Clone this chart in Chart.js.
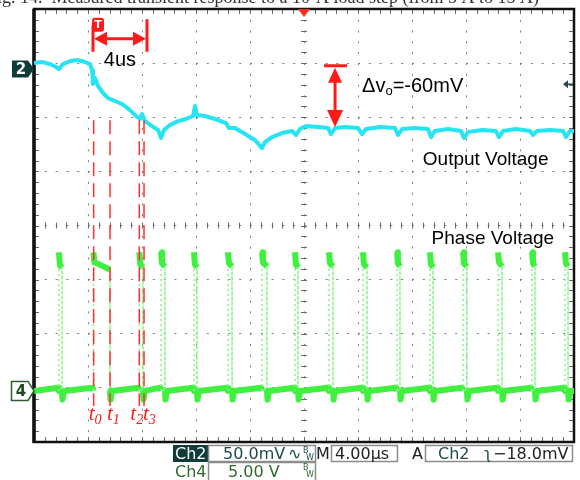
<!DOCTYPE html>
<html>
<head>
<meta charset="utf-8">
<script src="https://cdn.jsdelivr.net/npm/chart.js@4.4.1/dist/chart.umd.min.js"></script>
<style>
  html, body { margin: 0; padding: 0; background: #fff; }
  #wrap { width: 580px; height: 480px; position: relative; }
</style>
</head>
<body>
<div id="wrap"><canvas id="scope" width="580" height="480"></canvas></div>
<script>
// time in us (4 us/div), Ch2 in mV (50 mV/div), Ch4 in V (5 V/div)
const outTime = [0, 0.59, 1.19, 1.63, 1.85, 2.15, 2.67, 3.26, 3.78, 4.15, 4.30, 4.37, 4.52, 4.74, 5.11, 5.48, 6.0, 6.52, 7.11, 7.56, 7.85, 8.0, 8.22, 8.74, 9.19, 9.41, 9.63, 10.07, 10.67, 11.26, 11.78, 11.93, 12.07, 12.67, 13.41, 14.22, 14.44, 14.89, 15.63, 16.37, 16.89, 17.11, 17.63, 18.37, 19.11, 19.41, 19.70, 20.15, 21.04, 21.78, 22.0, 22.3, 23.04, 24.0, 24.3, 24.59, 25.63, 26.74, 26.96, 27.26, 28.22, 29.19, 29.41, 29.70, 30.67, 31.63, 31.85, 32.15, 33.19, 34.22, 34.44, 34.74, 35.70, 36.74, 36.96, 37.26, 38.22, 39.19, 39.41, 39.7, 40];
const outMv = [5.6, 6.5, 4.6, 1.9, 0, 4.6, 7.4, 8.3, 6.5, 4.6, -0.9, -13.9, -8.3, -15.7, -22.2, -26.9, -29.6, -32.4, -38, -43.5, -46.3, -41.7, -48.2, -52.8, -56.5, -63.9, -56.5, -51.9, -48.2, -46.3, -43.5, -34.3, -42.6, -43.5, -46.3, -50, -54.6, -54.6, -60.2, -65.7, -73.2, -67.6, -63, -59.3, -57.4, -61.1, -55.6, -52.8, -53.7, -54.6, -60.2, -54.6, -53.7, -54.6, -60.2, -55.6, -53.7, -54.6, -61.1, -55.6, -54.6, -55.6, -63, -57.4, -55.6, -57.4, -63.9, -58.3, -56.5, -57.4, -63, -57.4, -55.6, -57.4, -61.1, -57.4, -56.5, -57.4, -63, -57.4, -57.4];

const phaseRise = [1.85, 4.40, 7.80, 9.41, 11.85, 14.37, 16.89, 19.33, 21.85, 24.37, 26.89, 29.33, 31.78, 34.37, 36.89, 39.33];
const phaseFall = [2.07, 5.63, 8.07, 9.70, 12.07, 14.67, 17.26, 19.56, 22.15, 24.67, 27.11, 29.56, 32.07, 34.67, 37.11, 39.56];
const phaseHigh = [11.6, 11.9, 11.7, 11.8, 11.7, 11.8, 11.9, 11.7, 11.8, 11.7, 11.8, 11.7, 11.8, 11.9, 11.8, 11.8];
const phaseEnd = [11.4, 11.2, 11.4, 11.5, 11.4, 11.5, 11.5, 11.4, 11.5, 11.4, 11.5, 11.4, 11.5, 11.5, 11.5, 11.5];
const phasePeak = 12.8;
const phaseDip = -0.8;

const markerTimes = [4.42, 5.63, 7.80, 8.15];
const markerSubs = ['0', '1', '2', '3'];

const outPoints = outTime.map((t, i) => ({ x: t, y: outMv[i] }));

const phasePoints = [{ x: 0, y: 0 }];
phaseRise.forEach((r, i) => {
  const f = phaseFall[i];
  phasePoints.push({ x: r - 0.06, y: 0.3 }, { x: r, y: 0 }, { x: r, y: phasePeak },
    { x: r + 0.07, y: phaseHigh[i] }, { x: f, y: phaseEnd[i] }, { x: f, y: 0 },
    { x: f + 0.04, y: phaseDip }, { x: f + 0.15, y: 0 });
});
phasePoints.push({ x: 40, y: 0 });

const markerSets = markerTimes.map(t => ({
  data: [{ x: t, y: 25 }, { x: t, y: -1.4 }],
  yAxisID: 'ch4',
  borderColor: '#ff3030',
  borderWidth: 1.5,
  borderDash: [14, 7],
  pointRadius: 0
}));

const isEdge = c => c.p0.parsed.x === c.p1.parsed.x;

function arrowHead(ctx, x, y, dx, dy, len, half) {
  // tip at (x,y), pointing along (dx,dy)
  const bx = x - dx * len, by = y - dy * len;
  ctx.beginPath();
  ctx.moveTo(x, y);
  ctx.lineTo(bx - dy * half, by + dx * half);
  ctx.lineTo(bx + dy * half, by - dx * half);
  ctx.closePath();
  ctx.fill();
}

const scopeDecor = {
  id: 'scopeDecor',
  beforeDatasetsDraw(chart) {
    const { ctx, chartArea: a, scales } = chart;
    const cx = scales.x.getPixelForValue(20);
    const cy = scales.y.getPixelForValue(0);
    ctx.save();
    ctx.strokeStyle = '#6a6a6a';
    ctx.lineWidth = 1;
    ctx.beginPath();
    for (let i = 0; i <= 50; i++) {
      const px = Math.round(scales.x.getPixelForValue(i * 0.8)) + 0.5;
      ctx.moveTo(px, cy - 3); ctx.lineTo(px, cy + 3);
      ctx.moveTo(px, a.top); ctx.lineTo(px, a.top + 5);
      ctx.moveTo(px, a.bottom); ctx.lineTo(px, a.bottom - 5);
    }
    for (let i = 0; i <= 40; i++) {
      const py = Math.round(scales.y.getPixelForValue(-4 + i * 0.2)) + 0.5;
      ctx.moveTo(cx - 3, py); ctx.lineTo(cx + 3, py);
      ctx.moveTo(a.left, py); ctx.lineTo(a.left + 5, py);
      ctx.moveTo(a.right, py); ctx.lineTo(a.right - 5, py);
    }
    ctx.stroke();
    ctx.strokeStyle = '#111';
    ctx.lineWidth = 2.5;
    ctx.strokeRect(a.left, a.top, a.right - a.left, a.bottom - a.top);
    ctx.lineWidth = 3.5;
    ctx.beginPath();
    ctx.moveTo(a.left, a.top); ctx.lineTo(a.left, a.bottom + 1);
    ctx.stroke();
    ctx.restore();
  },
  afterDraw(chart) {
    const { ctx, chartArea: a, scales } = chart;
    const X = v => scales.x.getPixelForValue(v);
    const Y2 = v => scales.ch2.getPixelForValue(v);
    const Y4 = v => scales.ch4.getPixelForValue(v);
    ctx.save();

    // caption line cut by the top edge
    ctx.fillStyle = '#333';
    ctx.font = '18px "Liberation Serif"';
    ctx.textBaseline = 'alphabetic';
    ctx.fillText('Fig. 14.  Measured transient response to a 10-A load step (from 5 A to 15 A)', -13, 2.5);

    // horizontal position marker
    ctx.fillStyle = '#ff2a1a';
    ctx.beginPath();
    ctx.moveTo(X(20) - 6, a.top); ctx.lineTo(X(20) + 6, a.top); ctx.lineTo(X(20), a.top + 8);
    ctx.closePath(); ctx.fill();

    // channel markers
    const y2 = Y2(0), y4 = Y4(0);
    ctx.beginPath();
    ctx.moveTo(12, y2 - 8.5); ctx.lineTo(28, y2 - 8.5); ctx.lineTo(34, y2); ctx.lineTo(28, y2 + 8.5); ctx.lineTo(12, y2 + 8.5);
    ctx.closePath();
    ctx.fillStyle = '#0f3b3b'; ctx.fill();
    ctx.fillStyle = '#fff';
    ctx.font = 'bold 15px "DejaVu Sans"';
    ctx.textAlign = 'center'; ctx.textBaseline = 'middle';
    ctx.fillText('2', 21, y2 + 1);
    ctx.beginPath();
    ctx.moveTo(11.5, y4 - 9.5); ctx.lineTo(28, y4 - 9.5); ctx.lineTo(34, y4); ctx.lineTo(28, y4 + 9.5); ctx.lineTo(11.5, y4 + 9.5);
    ctx.closePath();
    ctx.fillStyle = '#fff'; ctx.fill();
    ctx.strokeStyle = '#2e5e2e'; ctx.lineWidth = 1.5; ctx.stroke();
    ctx.fillStyle = '#1f4a1f';
    ctx.fillText('4', 21, y4 + 1);

    // trigger level arrow on the right edge
    const yt = Y2(-14);
    ctx.strokeStyle = '#1d4b4b'; ctx.fillStyle = '#1d4b4b'; ctx.lineWidth = 1.5;
    ctx.beginPath(); ctx.moveTo(566, yt); ctx.lineTo(573, yt); ctx.stroke();
    arrowHead(ctx, 563, yt, -1, 0, 5, 4);

    // 4 us bracket with trigger "T"
    const red = '#ff1a1a';
    const xL = X(markerTimes[0] - 0.05), xR = X(markerTimes[0] + 3.95);
    ctx.strokeStyle = red; ctx.fillStyle = red; ctx.lineWidth = 3;
    ctx.beginPath();
    ctx.moveTo(xL, Y2(40)); ctx.lineTo(xL, Y2(16));
    ctx.moveTo(xR, Y2(46)); ctx.lineTo(xR, Y2(16));
    ctx.moveTo(xL + 10, Y2(28)); ctx.lineTo(xR - 10, Y2(28));
    ctx.stroke();
    arrowHead(ctx, xL + 1, Y2(28), -1, 0, 13, 7);
    arrowHead(ctx, xR - 1, Y2(28), 1, 0, 13, 7);
    ctx.beginPath();
    ctx.roundRect(xL - 1, Y2(47.5), 12, 14, 3);
    ctx.fill();
    ctx.fillStyle = '#fff';
    ctx.font = 'bold 11px "DejaVu Sans"';
    ctx.fillText('T', xL + 5, Y2(40.5));
    ctx.fillStyle = '#000';
    ctx.font = '20px "Liberation Sans"';
    ctx.textBaseline = 'alphabetic';
    ctx.fillText('4us', (xL + xR) / 2, Y2(2.8));

    // delta v_o arrow
    const xa = X(22.3), yTop = Y2(3), yBot = Y2(-53.7);
    ctx.fillStyle = red;
    ctx.beginPath();
    ctx.moveTo(xa - 11, yTop); ctx.lineTo(xa + 12, yTop);
    ctx.moveTo(xa, yTop + 12); ctx.lineTo(xa, yBot - 12);
    ctx.stroke();
    arrowHead(ctx, xa, yTop + 2, 0, -1, 15, 7);
    arrowHead(ctx, xa, yBot, 0, 1, 17, 8);

    ctx.fillStyle = '#000';
    ctx.textAlign = 'left';
    ctx.font = '20px "Liberation Sans"';
    let tx = X(24.3);
    const tb = Y2(-21);
    ctx.fillText('\u0394v', tx, tb);
    tx += ctx.measureText('\u0394v').width;
    ctx.font = '13px "Liberation Sans"';
    ctx.fillText('o', tx, tb + 3);
    tx += ctx.measureText('o').width;
    ctx.font = '20px "Liberation Sans"';
    ctx.fillText('=-60mV', tx, tb);

    ctx.font = '19px "Liberation Sans"';
    ctx.fillText('Output Voltage', X(28.8), Y2(-89));
    ctx.fillText('Phase Voltage', X(29.45), Y4(13.6));

    // t0..t3 labels
    ctx.fillStyle = '#ff1a1a';
    const labelX = [X(markerTimes[0]) - 5, X(markerTimes[1]) - 3, X(markerTimes[2]) - 9, X(markerTimes[3]) - 1];
    markerSubs.forEach((s, i) => {
      ctx.font = 'italic 21px "Liberation Serif"';
      ctx.fillText('t', labelX[i], Y4(-2.7));
      const w = ctx.measureText('t').width;
      ctx.font = 'italic 14px "Liberation Serif"';
      ctx.fillText(s, labelX[i] + w, Y4(-3.1));
    });

    // status bar
    ctx.font = '16px "DejaVu Sans"';
    ctx.fillStyle = '#0f3b3b';
    ctx.fillRect(173, 445, 35, 17);
    ctx.fillStyle = '#fff';
    ctx.fillText('Ch2', 175, 459);
    ctx.strokeStyle = '#8c8c8c'; ctx.lineWidth = 1.5;
    ctx.strokeRect(208.5, 445.5, 107, 16);
    ctx.strokeRect(331.5, 445.5, 66, 16);
    ctx.strokeRect(425.5, 445.5, 147, 16);
    ctx.strokeRect(208.5, 462.5, 107, 20);
    ctx.fillStyle = '#1d4b4b';
    ctx.fillText('50.0mV', 223, 459);
    ctx.fillText('\u223F', 288, 459);
    ctx.fillText('Ch2', 438, 459);
    ctx.fillText('\u0285', 484, 459);
    ctx.fillStyle = '#222';
    ctx.fillText('M', 316, 459);
    ctx.fillText('4.00\u00B5s', 335, 459);
    ctx.fillText('A', 412, 459);
    ctx.fillText('\u221218.0mV', 493, 459);
    ctx.fillStyle = '#2f6a2f';
    ctx.fillText('Ch4', 175, 477);
    ctx.fillText('5.00 V', 228, 477);
    ctx.font = '8px "DejaVu Sans"';
    ctx.fillStyle = '#1d4b4b';
    ctx.fillText('B', 303, 453); ctx.fillText('W', 306, 460);
    ctx.fillStyle = '#2f6a2f';
    ctx.fillText('B', 303, 470); ctx.fillText('W', 306, 477);
    ctx.restore();
  }
};

const gridStyle = {
  display: true,
  color: '#7d7d7d',
  lineWidth: 1,
  drawTicks: false
};

new Chart(document.getElementById('scope'), {
  type: 'line',
  data: {
    datasets: markerSets.concat([
      {
        data: outPoints,
        yAxisID: 'ch2',
        borderColor: '#27e4f3',
        borderWidth: 4,
        borderJoinStyle: 'round',
        pointRadius: 0,
        tension: 0
      },
      {
        data: phasePoints,
        yAxisID: 'ch4',
        borderColor: '#3ff03f',
        borderWidth: 6,
        borderJoinStyle: 'round',
        pointRadius: 0,
        tension: 0,
        segment: {
          borderColor: c => isEdge(c) ? '#8ef58e' : undefined,
          borderWidth: c => isEdge(c) ? 1.6 : undefined,
          borderDash: c => isEdge(c) ? [2, 3] : undefined
        }
      }
    ])
  },
  options: {
    responsive: false,
    animation: false,
    devicePixelRatio: 1,
    layout: { padding: { left: 34, right: 6, top: 9, bottom: 38 } },
    plugins: { legend: { display: false }, tooltip: { enabled: false } },
    scales: {
      x: {
        type: 'linear', min: 0, max: 40,
        ticks: { display: false, stepSize: 4 },
        grid: gridStyle,
        border: { display: false, dash: [2, 8.8] }
      },
      y: {
        type: 'linear', min: -4, max: 4, position: 'left',
        ticks: { display: false, stepSize: 1 },
        grid: gridStyle,
        border: { display: false, dash: [2, 8.8] }
      },
      ch2: { type: 'linear', min: -345.4, max: 55.6, display: false },
      ch4: { type: 'linear', min: -4.72, max: 35.28, display: false }
    }
  },
  plugins: [scopeDecor]
});
</script>
</body>
</html>
